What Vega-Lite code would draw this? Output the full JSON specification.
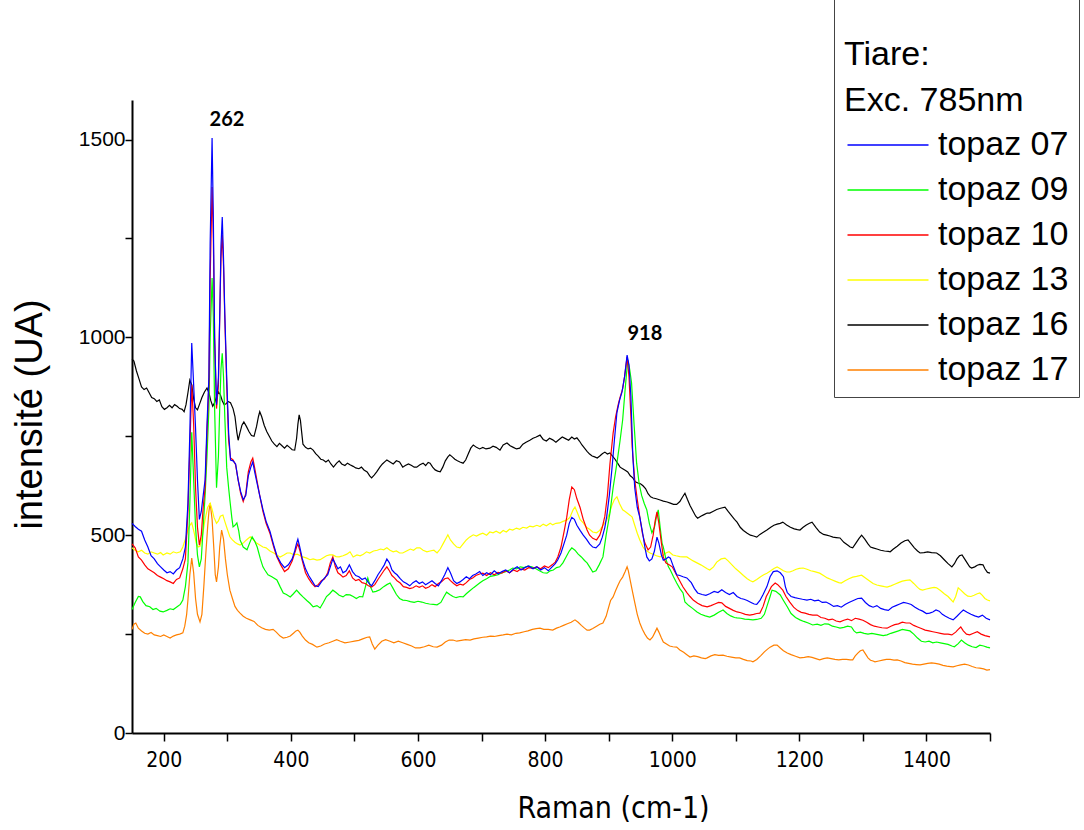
{
"$schema": "https://vega.github.io/schema/vega-lite/v6.json",
"width": 858, "height": 633,
"autosize": {"type": "none"},
"padding": {"left": 132, "top": 100, "right": 94, "bottom": 97},
"background": "white",
"config": {"view": {"stroke": null}},
"datasets": {
"t07": [{"x":150,"y":530},{"x":155,"y":522},{"x":160,"y":515},{"x":165,"y":510},{"x":170,"y":488},{"x":175,"y":470},{"x":180,"y":448},{"x":185,"y":440},{"x":190,"y":428},{"x":195,"y":420},{"x":200,"y":412},{"x":205,"y":405},{"x":210,"y":408},{"x":215,"y":402},{"x":220,"y":412},{"x":225,"y":418},{"x":230,"y":440},{"x":234,"y":470},{"x":238,"y":580},{"x":241,"y":760},{"x":244,"y":986},{"x":247,"y":880},{"x":250,"y":770},{"x":253,"y":640},{"x":256,"y":540},{"x":259,"y":560},{"x":262,"y":600},{"x":265,"y":640},{"x":268,"y":780},{"x":271,"y":900},{"x":273,"y":1240},{"x":276,"y":1504},{"x":278,"y":1300},{"x":280,"y":1000},{"x":283,"y":830},{"x":286,"y":900},{"x":288,"y":1050},{"x":290,"y":1230},{"x":292,"y":1304},{"x":294,"y":1200},{"x":296,"y":1060},{"x":299,"y":900},{"x":302,"y":760},{"x":305,"y":690},{"x":309,"y":688},{"x":313,"y":680},{"x":317,"y":640},{"x":321,"y":610},{"x":325,"y":590},{"x":329,"y":600},{"x":333,"y":650},{"x":337,"y":672},{"x":340,"y":685},{"x":343,"y":660},{"x":347,"y":630},{"x":351,"y":600},{"x":356,"y":565},{"x":361,"y":535},{"x":367,"y":510},{"x":373,"y":475},{"x":378,"y":448},{"x":384,"y":430},{"x":390,"y":418},{"x":396,"y":425},{"x":402,"y":440},{"x":406,"y":460},{"x":409,"y":480},{"x":411,"y":490},{"x":414,"y":470},{"x":418,"y":440},{"x":423,"y":415},{"x":428,"y":398},{"x":433,"y":385},{"x":438,"y":372},{"x":443,"y":370},{"x":448,"y":382},{"x":453,"y":392},{"x":458,"y":400},{"x":462,"y":420},{"x":466,"y":440},{"x":470,"y":428},{"x":474,"y":415},{"x":478,"y":420},{"x":482,"y":405},{"x":487,"y":410},{"x":492,"y":425},{"x":497,"y":408},{"x":502,"y":398},{"x":507,"y":395},{"x":512,"y":388},{"x":517,"y":392},{"x":522,"y":380},{"x":527,"y":372},{"x":532,"y":385},{"x":537,"y":400},{"x":542,"y":412},{"x":547,"y":425},{"x":551,"y":440},{"x":555,"y":430},{"x":559,"y":412},{"x":563,"y":405},{"x":567,"y":400},{"x":572,"y":390},{"x":577,"y":382},{"x":582,"y":378},{"x":587,"y":372},{"x":592,"y":380},{"x":597,"y":385},{"x":602,"y":378},{"x":607,"y":382},{"x":612,"y":375},{"x":617,"y":380},{"x":622,"y":385},{"x":627,"y":378},{"x":632,"y":372},{"x":637,"y":385},{"x":642,"y":400},{"x":647,"y":418},{"x":651,"y":405},{"x":656,"y":385},{"x":661,"y":378},{"x":666,"y":382},{"x":671,"y":388},{"x":676,"y":395},{"x":681,"y":390},{"x":686,"y":398},{"x":691,"y":402},{"x":697,"y":408},{"x":702,"y":398},{"x":708,"y":405},{"x":714,"y":400},{"x":720,"y":410},{"x":726,"y":402},{"x":732,"y":408},{"x":738,"y":412},{"x":744,"y":405},{"x":750,"y":414},{"x":756,"y":420},{"x":762,"y":412},{"x":768,"y":418},{"x":774,"y":422},{"x":781,"y":415},{"x":787,"y":420},{"x":793,"y":412},{"x":799,"y":418},{"x":805,"y":410},{"x":811,"y":420},{"x":816,"y":428},{"x":820,"y":438},{"x":825,"y":455},{"x":830,"y":480},{"x":834,"y":500},{"x":838,"y":530},{"x":842,"y":545},{"x":846,"y":540},{"x":850,"y":525},{"x":855,"y":512},{"x":860,"y":500},{"x":865,"y":490},{"x":870,"y":478},{"x":875,"y":470},{"x":880,"y":468},{"x":886,"y":478},{"x":890,"y":495},{"x":894,"y":520},{"x":897,"y":548},{"x":901,"y":600},{"x":905,"y":665},{"x":909,"y":740},{"x":913,"y":810},{"x":917,"y":840},{"x":921,"y":862},{"x":925,"y":900},{"x":929,"y":955},{"x":932,"y":930},{"x":935,"y":850},{"x":938,"y":700},{"x":941,"y":620},{"x":945,"y":570},{"x":949,"y":545},{"x":953,"y":510},{"x":957,"y":470},{"x":960,"y":445},{"x":964,"y":435},{"x":968,"y":440},{"x":972,"y":460},{"x":976,"y":495},{"x":979,"y":480},{"x":983,"y":450},{"x":986,"y":437},{"x":990,"y":440},{"x":994,"y":445},{"x":997,"y":442},{"x":1002,"y":420},{"x":1007,"y":400},{"x":1012,"y":398},{"x":1017,"y":395},{"x":1023,"y":392},{"x":1030,"y":380},{"x":1035,"y":365},{"x":1040,"y":354},{"x":1047,"y":350},{"x":1053,"y":348},{"x":1059,"y":352},{"x":1066,"y":358},{"x":1072,"y":355},{"x":1078,"y":362},{"x":1084,"y":355},{"x":1090,"y":350},{"x":1096,"y":355},{"x":1102,"y":345},{"x":1108,"y":340},{"x":1113,"y":338},{"x":1118,"y":335},{"x":1124,"y":330},{"x":1129,"y":326},{"x":1133,"y":325},{"x":1138,"y":335},{"x":1143,"y":350},{"x":1149,"y":370},{"x":1154,"y":395},{"x":1159,"y":408},{"x":1165,"y":410},{"x":1170,"y":405},{"x":1175,"y":395},{"x":1178,"y":370},{"x":1181,"y":355},{"x":1187,"y":345},{"x":1193,"y":342},{"x":1199,"y":340},{"x":1205,"y":338},{"x":1212,"y":336},{"x":1218,"y":338},{"x":1224,"y":334},{"x":1230,"y":336},{"x":1236,"y":330},{"x":1242,"y":331},{"x":1248,"y":326},{"x":1254,"y":320},{"x":1260,"y":322},{"x":1266,"y":318},{"x":1272,"y":325},{"x":1278,"y":330},{"x":1285,"y":335},{"x":1292,"y":340},{"x":1298,"y":341},{"x":1304,"y":330},{"x":1310,"y":322},{"x":1316,"y":318},{"x":1322,"y":322},{"x":1328,"y":315},{"x":1334,"y":312},{"x":1340,"y":310},{"x":1346,"y":318},{"x":1352,"y":322},{"x":1358,"y":326},{"x":1364,"y":330},{"x":1370,"y":328},{"x":1376,"y":325},{"x":1382,"y":318},{"x":1388,"y":312},{"x":1394,"y":308},{"x":1400,"y":302},{"x":1405,"y":303},{"x":1410,"y":306},{"x":1415,"y":311},{"x":1420,"y":308},{"x":1425,"y":300},{"x":1430,"y":295},{"x":1436,"y":290},{"x":1442,"y":286},{"x":1448,"y":295},{"x":1454,"y":305},{"x":1458,"y":311},{"x":1464,"y":305},{"x":1470,"y":300},{"x":1476,"y":296},{"x":1482,"y":293},{"x":1488,"y":298},{"x":1494,"y":290},{"x":1500,"y":286}],
"t10": [{"x":150,"y":478},{"x":155,"y":468},{"x":160,"y":445},{"x":165,"y":437},{"x":170,"y":425},{"x":175,"y":415},{"x":180,"y":410},{"x":185,"y":405},{"x":190,"y":398},{"x":195,"y":394},{"x":200,"y":390},{"x":205,"y":385},{"x":210,"y":382},{"x":215,"y":378},{"x":220,"y":388},{"x":225,"y":392},{"x":230,"y":415},{"x":234,"y":440},{"x":238,"y":560},{"x":241,"y":720},{"x":244,"y":880},{"x":247,"y":780},{"x":250,"y":620},{"x":253,"y":520},{"x":256,"y":475},{"x":259,"y":500},{"x":262,"y":570},{"x":265,"y":620},{"x":268,"y":760},{"x":271,"y":880},{"x":273,"y":1150},{"x":276,"y":1380},{"x":278,"y":1250},{"x":280,"y":1000},{"x":283,"y":820},{"x":286,"y":880},{"x":288,"y":1050},{"x":290,"y":1200},{"x":292,"y":1260},{"x":294,"y":1180},{"x":296,"y":1050},{"x":299,"y":880},{"x":302,"y":740},{"x":305,"y":695},{"x":309,"y":690},{"x":313,"y":678},{"x":317,"y":640},{"x":321,"y":605},{"x":325,"y":585},{"x":329,"y":605},{"x":333,"y":660},{"x":337,"y":685},{"x":340,"y":695},{"x":343,"y":670},{"x":347,"y":635},{"x":351,"y":600},{"x":356,"y":560},{"x":361,"y":530},{"x":367,"y":505},{"x":373,"y":470},{"x":378,"y":445},{"x":384,"y":425},{"x":390,"y":408},{"x":396,"y":415},{"x":402,"y":435},{"x":406,"y":455},{"x":409,"y":470},{"x":411,"y":478},{"x":414,"y":462},{"x":418,"y":435},{"x":423,"y":405},{"x":428,"y":390},{"x":433,"y":378},{"x":438,"y":370},{"x":443,"y":375},{"x":448,"y":385},{"x":453,"y":390},{"x":458,"y":405},{"x":462,"y":430},{"x":466,"y":445},{"x":470,"y":420},{"x":474,"y":405},{"x":478,"y":400},{"x":482,"y":394},{"x":487,"y":398},{"x":492,"y":410},{"x":497,"y":392},{"x":502,"y":385},{"x":507,"y":388},{"x":512,"y":380},{"x":517,"y":378},{"x":522,"y":372},{"x":527,"y":369},{"x":532,"y":375},{"x":537,"y":388},{"x":542,"y":400},{"x":547,"y":412},{"x":551,"y":420},{"x":555,"y":410},{"x":559,"y":398},{"x":563,"y":392},{"x":567,"y":385},{"x":572,"y":379},{"x":577,"y":370},{"x":582,"y":368},{"x":587,"y":365},{"x":592,"y":367},{"x":597,"y":372},{"x":602,"y":368},{"x":607,"y":372},{"x":612,"y":366},{"x":617,"y":369},{"x":622,"y":375},{"x":627,"y":370},{"x":632,"y":378},{"x":637,"y":382},{"x":642,"y":390},{"x":647,"y":392},{"x":651,"y":385},{"x":656,"y":378},{"x":661,"y":372},{"x":666,"y":376},{"x":671,"y":374},{"x":676,"y":380},{"x":681,"y":388},{"x":686,"y":392},{"x":691,"y":398},{"x":697,"y":402},{"x":702,"y":404},{"x":708,"y":398},{"x":714,"y":405},{"x":720,"y":400},{"x":726,"y":406},{"x":732,"y":404},{"x":738,"y":410},{"x":744,"y":405},{"x":750,"y":412},{"x":756,"y":408},{"x":762,"y":415},{"x":768,"y":412},{"x":774,"y":418},{"x":781,"y":416},{"x":787,"y":420},{"x":793,"y":415},{"x":799,"y":422},{"x":805,"y":418},{"x":811,"y":425},{"x":816,"y":432},{"x":820,"y":445},{"x":825,"y":470},{"x":830,"y":510},{"x":834,"y":545},{"x":838,"y":590},{"x":842,"y":622},{"x":846,"y":615},{"x":850,"y":592},{"x":855,"y":570},{"x":860,"y":540},{"x":866,"y":513},{"x":870,"y":500},{"x":875,"y":492},{"x":881,"y":488},{"x":886,"y":500},{"x":890,"y":520},{"x":894,"y":548},{"x":898,"y":600},{"x":902,"y":680},{"x":907,"y":758},{"x":911,"y":800},{"x":915,"y":830},{"x":918,"y":849},{"x":922,"y":870},{"x":925,"y":900},{"x":929,"y":951},{"x":932,"y":900},{"x":935,"y":800},{"x":937,"y":723},{"x":941,"y":640},{"x":945,"y":590},{"x":949,"y":546},{"x":953,"y":505},{"x":957,"y":480},{"x":962,"y":463},{"x":966,"y":470},{"x":970,"y":500},{"x":973,"y":535},{"x":976,"y":559},{"x":979,"y":530},{"x":983,"y":480},{"x":986,"y":445},{"x":990,"y":430},{"x":995,"y":425},{"x":1000,"y":420},{"x":1005,"y":405},{"x":1010,"y":390},{"x":1017,"y":369},{"x":1023,"y":355},{"x":1028,"y":345},{"x":1033,"y":336},{"x":1040,"y":328},{"x":1047,"y":322},{"x":1055,"y":319},{"x":1061,"y":322},{"x":1067,"y":326},{"x":1073,"y":330},{"x":1078,"y":329},{"x":1084,"y":320},{"x":1090,"y":315},{"x":1096,"y":310},{"x":1102,"y":306},{"x":1108,"y":304},{"x":1115,"y":300},{"x":1122,"y":298},{"x":1128,"y":300},{"x":1133,"y":302},{"x":1138,"y":303},{"x":1143,"y":320},{"x":1148,"y":345},{"x":1151,"y":354},{"x":1156,"y":370},{"x":1162,"y":379},{"x":1166,"y":375},{"x":1170,"y":368},{"x":1174,"y":361},{"x":1179,"y":345},{"x":1185,"y":331},{"x":1191,"y":318},{"x":1197,"y":310},{"x":1203,"y":305},{"x":1209,"y":303},{"x":1215,"y":300},{"x":1221,"y":298},{"x":1228,"y":298},{"x":1234,"y":292},{"x":1240,"y":290},{"x":1246,"y":286},{"x":1252,"y":288},{"x":1258,"y":283},{"x":1264,"y":281},{"x":1270,"y":285},{"x":1276,"y":288},{"x":1282,"y":284},{"x":1288,"y":290},{"x":1294,"y":288},{"x":1300,"y":285},{"x":1306,"y":280},{"x":1312,"y":274},{"x":1318,"y":270},{"x":1324,"y":268},{"x":1330,"y":266},{"x":1338,"y":265},{"x":1344,"y":270},{"x":1350,"y":274},{"x":1356,"y":276},{"x":1362,"y":280},{"x":1368,"y":278},{"x":1374,"y":278},{"x":1380,"y":272},{"x":1386,"y":268},{"x":1392,"y":264},{"x":1398,"y":260},{"x":1404,"y":258},{"x":1410,"y":256},{"x":1416,"y":254},{"x":1422,"y":252},{"x":1428,"y":250},{"x":1434,"y":250},{"x":1440,"y":248},{"x":1446,"y":255},{"x":1450,"y":262},{"x":1454,"y":268},{"x":1458,"y":258},{"x":1463,"y":250},{"x":1468,"y":248},{"x":1474,"y":252},{"x":1480,"y":256},{"x":1486,"y":250},{"x":1492,"y":246},{"x":1500,"y":243}],
"t09": [{"x":150,"y":312},{"x":155,"y":330},{"x":160,"y":345},{"x":163,"y":344},{"x":167,"y":332},{"x":172,"y":322},{"x":178,"y":319},{"x":183,"y":312},{"x":188,"y":315},{"x":194,"y":308},{"x":199,"y":306},{"x":205,"y":310},{"x":210,"y":314},{"x":215,"y":312},{"x":221,"y":319},{"x":226,"y":325},{"x":230,"y":336},{"x":234,"y":370},{"x":238,"y":430},{"x":241,"y":580},{"x":244,"y":760},{"x":247,"y":640},{"x":250,"y":520},{"x":253,"y":450},{"x":256,"y":420},{"x":259,"y":440},{"x":262,"y":520},{"x":265,"y":600},{"x":268,"y":700},{"x":271,"y":820},{"x":273,"y":1000},{"x":276,"y":1150},{"x":278,"y":1050},{"x":280,"y":820},{"x":283,"y":620},{"x":286,"y":700},{"x":288,"y":820},{"x":290,"y":920},{"x":292,"y":960},{"x":294,"y":900},{"x":296,"y":800},{"x":299,"y":672},{"x":302,"y":620},{"x":304,"y":589},{"x":307,"y":545},{"x":309,"y":521},{"x":312,"y":525},{"x":315,"y":531},{"x":318,"y":510},{"x":320,"y":488},{"x":325,"y":470},{"x":331,"y":463},{"x":335,"y":480},{"x":339,"y":496},{"x":343,"y":485},{"x":347,"y":470},{"x":352,"y":440},{"x":356,"y":420},{"x":359,"y":412},{"x":364,"y":400},{"x":370,"y":395},{"x":378,"y":387},{"x":383,"y":370},{"x":388,"y":354},{"x":393,"y":350},{"x":399,"y":344},{"x":404,"y":352},{"x":409,"y":361},{"x":414,"y":352},{"x":419,"y":344},{"x":425,"y":335},{"x":430,"y":328},{"x":435,"y":319},{"x":441,"y":322},{"x":446,"y":316},{"x":451,"y":330},{"x":456,"y":345},{"x":461,"y":352},{"x":466,"y":361},{"x":471,"y":355},{"x":476,"y":348},{"x":482,"y":344},{"x":487,"y":350},{"x":493,"y":349},{"x":498,"y":345},{"x":503,"y":340},{"x":508,"y":345},{"x":513,"y":344},{"x":517,"y":368},{"x":521,"y":392},{"x":525,"y":370},{"x":529,"y":356},{"x":534,"y":358},{"x":540,"y":362},{"x":546,"y":370},{"x":551,"y":375},{"x":556,"y":379},{"x":561,"y":365},{"x":566,"y":350},{"x":571,"y":340},{"x":576,"y":336},{"x":582,"y":335},{"x":588,"y":332},{"x":594,"y":330},{"x":600,"y":333},{"x":606,"y":331},{"x":612,"y":328},{"x":618,"y":326},{"x":624,"y":325},{"x":630,"y":324},{"x":636,"y":330},{"x":641,"y":345},{"x":645,"y":356},{"x":650,"y":350},{"x":655,"y":345},{"x":660,"y":342},{"x":666,"y":345},{"x":671,"y":344},{"x":676,"y":352},{"x":682,"y":360},{"x":688,"y":368},{"x":693,"y":374},{"x":697,"y":379},{"x":702,"y":385},{"x":708,"y":390},{"x":714,"y":396},{"x":720,"y":398},{"x":726,"y":400},{"x":732,"y":405},{"x":738,"y":408},{"x":744,"y":412},{"x":749,"y":417},{"x":755,"y":415},{"x":761,"y":420},{"x":767,"y":418},{"x":773,"y":422},{"x":779,"y":420},{"x":785,"y":416},{"x":791,"y":410},{"x":797,"y":405},{"x":803,"y":404},{"x":808,"y":410},{"x":813,"y":412},{"x":818,"y":418},{"x":823,"y":420},{"x":828,"y":430},{"x":833,"y":445},{"x":838,"y":460},{"x":842,"y":468},{"x":847,"y":462},{"x":852,"y":452},{"x":857,"y":445},{"x":862,"y":436},{"x":866,"y":430},{"x":870,"y":420},{"x":875,"y":407},{"x":880,"y":410},{"x":885,"y":425},{"x":891,"y":445},{"x":896,"y":500},{"x":902,"y":556},{"x":907,"y":620},{"x":913,"y":682},{"x":918,"y":740},{"x":922,"y":791},{"x":926,"y":870},{"x":930,"y":943},{"x":933,"y":920},{"x":936,"y":885},{"x":940,"y":780},{"x":944,"y":682},{"x":948,"y":630},{"x":952,"y":600},{"x":956,"y":580},{"x":960,"y":564},{"x":964,"y":530},{"x":968,"y":506},{"x":972,"y":520},{"x":975,"y":545},{"x":978,"y":564},{"x":981,"y":520},{"x":984,"y":480},{"x":986,"y":470},{"x":990,"y":440},{"x":994,"y":420},{"x":997,"y":412},{"x":1002,"y":395},{"x":1007,"y":379},{"x":1012,"y":365},{"x":1017,"y":354},{"x":1020,"y":331},{"x":1026,"y":322},{"x":1032,"y":315},{"x":1039,"y":306},{"x":1045,"y":300},{"x":1052,"y":296},{"x":1059,"y":293},{"x":1066,"y":298},{"x":1073,"y":305},{"x":1080,"y":311},{"x":1086,"y":302},{"x":1092,"y":296},{"x":1098,"y":292},{"x":1102,"y":291},{"x":1108,"y":290},{"x":1114,"y":288},{"x":1120,"y":287},{"x":1127,"y":286},{"x":1133,"y":287},{"x":1140,"y":290},{"x":1145,"y":300},{"x":1150,"y":325},{"x":1154,"y":345},{"x":1157,"y":361},{"x":1163,"y":358},{"x":1170,"y":349},{"x":1175,"y":335},{"x":1181,"y":319},{"x":1187,"y":302},{"x":1194,"y":292},{"x":1201,"y":286},{"x":1207,"y":282},{"x":1214,"y":278},{"x":1221,"y":273},{"x":1228,"y":275},{"x":1234,"y":272},{"x":1240,"y":276},{"x":1246,"y":275},{"x":1252,"y":270},{"x":1258,"y":268},{"x":1264,"y":265},{"x":1270,"y":267},{"x":1276,"y":270},{"x":1282,"y":268},{"x":1286,"y":258},{"x":1290,"y":253},{"x":1296,"y":255},{"x":1302,"y":252},{"x":1308,"y":250},{"x":1314,"y":252},{"x":1320,"y":250},{"x":1326,"y":248},{"x":1332,"y":246},{"x":1338,"y":248},{"x":1344,"y":252},{"x":1350,"y":255},{"x":1356,"y":258},{"x":1362,"y":262},{"x":1368,"y":260},{"x":1374,"y":258},{"x":1380,"y":250},{"x":1386,"y":240},{"x":1392,"y":232},{"x":1398,"y":230},{"x":1404,"y":232},{"x":1410,"y":228},{"x":1416,"y":230},{"x":1422,"y":228},{"x":1428,"y":226},{"x":1434,"y":224},{"x":1440,"y":220},{"x":1444,"y":218},{"x":1450,"y":226},{"x":1455,"y":235},{"x":1460,"y":228},{"x":1466,"y":222},{"x":1472,"y":218},{"x":1478,"y":216},{"x":1484,"y":222},{"x":1490,"y":220},{"x":1495,"y":217},{"x":1500,"y":215}],
"t13": [{"x":150,"y":468},{"x":155,"y":462},{"x":160,"y":458},{"x":165,"y":462},{"x":170,"y":455},{"x":175,"y":452},{"x":180,"y":458},{"x":185,"y":455},{"x":190,"y":452},{"x":195,"y":456},{"x":199,"y":450},{"x":205,"y":455},{"x":210,"y":452},{"x":215,"y":458},{"x":220,"y":455},{"x":226,"y":458},{"x":230,"y":470},{"x":234,"y":490},{"x":238,"y":513},{"x":241,"y":525},{"x":244,"y":531},{"x":248,"y":505},{"x":251,"y":480},{"x":254,"y":470},{"x":257,"y":472},{"x":261,"y":500},{"x":265,"y":540},{"x":269,"y":570},{"x":273,"y":581},{"x":276,"y":565},{"x":279,"y":545},{"x":283,"y":530},{"x":286,"y":536},{"x":289,"y":548},{"x":293,"y":551},{"x":296,"y":535},{"x":300,"y":515},{"x":304,"y":496},{"x":308,"y":488},{"x":312,"y":482},{"x":316,"y":478},{"x":320,"y":475},{"x":325,"y":480},{"x":330,"y":488},{"x":336,"y":496},{"x":341,"y":488},{"x":346,"y":480},{"x":351,"y":475},{"x":356,"y":470},{"x":361,"y":468},{"x":367,"y":460},{"x":373,"y":455},{"x":378,"y":450},{"x":383,"y":445},{"x":389,"y":450},{"x":394,"y":455},{"x":399,"y":455},{"x":405,"y":450},{"x":410,"y":452},{"x":415,"y":448},{"x":419,"y":445},{"x":425,"y":442},{"x":430,"y":438},{"x":435,"y":440},{"x":441,"y":437},{"x":446,"y":438},{"x":451,"y":443},{"x":456,"y":448},{"x":461,"y":450},{"x":466,"y":450},{"x":471,"y":446},{"x":476,"y":445},{"x":482,"y":448},{"x":488,"y":452},{"x":493,"y":458},{"x":498,"y":445},{"x":504,"y":450},{"x":509,"y":448},{"x":514,"y":452},{"x":519,"y":458},{"x":524,"y":455},{"x":530,"y":460},{"x":536,"y":462},{"x":541,"y":465},{"x":546,"y":463},{"x":551,"y":468},{"x":556,"y":462},{"x":561,"y":458},{"x":566,"y":460},{"x":571,"y":455},{"x":576,"y":455},{"x":582,"y":460},{"x":588,"y":465},{"x":593,"y":462},{"x":598,"y":468},{"x":603,"y":468},{"x":608,"y":462},{"x":614,"y":458},{"x":619,"y":460},{"x":625,"y":462},{"x":630,"y":455},{"x":635,"y":465},{"x":640,"y":480},{"x":645,"y":495},{"x":647,"y":501},{"x":651,"y":488},{"x":656,"y":478},{"x":661,"y":470},{"x":666,"y":468},{"x":671,"y":478},{"x":676,"y":488},{"x":681,"y":495},{"x":687,"y":501},{"x":692,"y":498},{"x":697,"y":502},{"x":702,"y":505},{"x":708,"y":500},{"x":713,"y":508},{"x":718,"y":506},{"x":723,"y":510},{"x":729,"y":505},{"x":734,"y":512},{"x":739,"y":508},{"x":744,"y":515},{"x":749,"y":513},{"x":755,"y":518},{"x":760,"y":515},{"x":765,"y":520},{"x":771,"y":518},{"x":776,"y":523},{"x":781,"y":521},{"x":787,"y":525},{"x":792,"y":522},{"x":797,"y":528},{"x":802,"y":524},{"x":808,"y":530},{"x":812,"y":526},{"x":817,"y":530},{"x":823,"y":531},{"x":828,"y":535},{"x":834,"y":538},{"x":839,"y":545},{"x":844,"y":564},{"x":847,"y":571},{"x":850,"y":560},{"x":855,"y":540},{"x":860,"y":531},{"x":865,"y":520},{"x":870,"y":515},{"x":875,"y":508},{"x":881,"y":506},{"x":886,"y":512},{"x":891,"y":525},{"x":897,"y":538},{"x":901,"y":555},{"x":905,"y":575},{"x":909,"y":590},{"x":913,"y":597},{"x":917,"y":580},{"x":922,"y":564},{"x":926,"y":560},{"x":930,"y":555},{"x":934,"y":550},{"x":937,"y":546},{"x":941,"y":525},{"x":945,"y":505},{"x":949,"y":488},{"x":954,"y":470},{"x":958,"y":462},{"x":962,"y":458},{"x":965,"y":455},{"x":970,"y":452},{"x":975,"y":448},{"x":981,"y":445},{"x":986,"y":450},{"x":990,"y":455},{"x":995,"y":458},{"x":1001,"y":450},{"x":1006,"y":448},{"x":1012,"y":446},{"x":1017,"y":445},{"x":1023,"y":445},{"x":1028,"y":440},{"x":1033,"y":435},{"x":1039,"y":430},{"x":1045,"y":425},{"x":1050,"y":420},{"x":1055,"y":415},{"x":1059,"y":412},{"x":1065,"y":420},{"x":1070,"y":432},{"x":1077,"y":440},{"x":1083,"y":442},{"x":1088,"y":435},{"x":1094,"y":425},{"x":1100,"y":415},{"x":1106,"y":407},{"x":1112,"y":398},{"x":1118,"y":390},{"x":1123,"y":385},{"x":1127,"y":382},{"x":1133,"y":388},{"x":1139,"y":395},{"x":1144,"y":400},{"x":1149,"y":404},{"x":1155,"y":410},{"x":1160,"y":416},{"x":1165,"y":420},{"x":1170,"y":415},{"x":1175,"y":410},{"x":1180,"y":407},{"x":1185,"y":407},{"x":1190,"y":410},{"x":1195,"y":414},{"x":1200,"y":416},{"x":1206,"y":417},{"x":1212,"y":414},{"x":1218,"y":410},{"x":1224,"y":408},{"x":1228,"y":406},{"x":1232,"y":404},{"x":1238,"y":398},{"x":1244,"y":392},{"x":1250,"y":388},{"x":1256,"y":384},{"x":1262,"y":380},{"x":1266,"y":379},{"x":1272,"y":385},{"x":1278,"y":390},{"x":1284,"y":394},{"x":1290,"y":396},{"x":1298,"y":399},{"x":1304,"y":392},{"x":1310,"y":385},{"x":1316,"y":378},{"x":1322,"y":374},{"x":1328,"y":372},{"x":1334,"y":370},{"x":1338,"y":369},{"x":1344,"y":372},{"x":1350,"y":376},{"x":1356,"y":380},{"x":1362,"y":384},{"x":1368,"y":386},{"x":1374,"y":387},{"x":1380,"y":378},{"x":1386,"y":368},{"x":1390,"y":363},{"x":1394,"y":361},{"x":1400,"y":364},{"x":1406,"y":366},{"x":1412,"y":368},{"x":1416,"y":367},{"x":1422,"y":360},{"x":1428,"y":352},{"x":1434,"y":345},{"x":1438,"y":338},{"x":1442,"y":331},{"x":1446,"y":345},{"x":1450,"y":367},{"x":1455,"y":360},{"x":1460,"y":352},{"x":1465,"y":346},{"x":1470,"y":345},{"x":1475,"y":348},{"x":1480,"y":352},{"x":1484,"y":354},{"x":1488,"y":348},{"x":1492,"y":340},{"x":1496,"y":336},{"x":1500,"y":334}],
"t16": [{"x":150,"y":945},{"x":153,"y":940},{"x":157,"y":915},{"x":161,"y":895},{"x":165,"y":875},{"x":169,"y":868},{"x":173,"y":872},{"x":177,"y":860},{"x":181,"y":848},{"x":185,"y":845},{"x":189,"y":838},{"x":193,"y":842},{"x":197,"y":825},{"x":201,"y":818},{"x":205,"y":822},{"x":209,"y":828},{"x":213,"y":822},{"x":217,"y":830},{"x":221,"y":826},{"x":225,"y":820},{"x":229,"y":818},{"x":232,"y":812},{"x":235,"y":830},{"x":238,"y":860},{"x":241,"y":892},{"x":244,"y":880},{"x":247,"y":845},{"x":250,"y":822},{"x":253,"y":817},{"x":256,"y":830},{"x":260,"y":848},{"x":264,"y":862},{"x":268,"y":872},{"x":271,"y":860},{"x":274,"y":840},{"x":277,"y":826},{"x":280,"y":835},{"x":283,"y":850},{"x":286,"y":862},{"x":289,"y":855},{"x":292,"y":840},{"x":295,"y":830},{"x":298,"y":832},{"x":301,"y":838},{"x":305,"y":835},{"x":309,"y":820},{"x":312,"y":800},{"x":315,"y":760},{"x":317,"y":740},{"x":320,"y":760},{"x":323,"y":778},{"x":326,"y":786},{"x":330,"y":775},{"x":334,"y":762},{"x":338,"y":752},{"x":342,"y":750},{"x":346,"y":775},{"x":349,"y":800},{"x":351,"y":812},{"x":354,"y":800},{"x":358,"y":778},{"x":362,"y":762},{"x":366,"y":750},{"x":370,"y":738},{"x":374,"y":730},{"x":378,"y":724},{"x":382,"y":732},{"x":386,"y":726},{"x":390,"y":720},{"x":394,"y":727},{"x":398,"y":722},{"x":402,"y":716},{"x":406,"y":715},{"x":409,"y":745},{"x":411,"y":780},{"x":413,"y":804},{"x":415,"y":790},{"x":417,"y":760},{"x":419,"y":730},{"x":423,"y":722},{"x":427,"y":718},{"x":431,"y":720},{"x":435,"y":715},{"x":439,"y":706},{"x":443,"y":700},{"x":447,"y":692},{"x":451,"y":690},{"x":455,"y":685},{"x":459,"y":690},{"x":463,"y":680},{"x":467,"y":672},{"x":472,"y":682},{"x":476,"y":688},{"x":480,"y":680},{"x":485,"y":676},{"x":489,"y":682},{"x":493,"y":678},{"x":498,"y":674},{"x":502,"y":670},{"x":507,"y":668},{"x":511,"y":672},{"x":515,"y":665},{"x":520,"y":660},{"x":524,"y":650},{"x":527,"y":645},{"x":531,"y":652},{"x":535,"y":660},{"x":540,"y":672},{"x":544,"y":680},{"x":548,"y":686},{"x":551,"y":690},{"x":556,"y":685},{"x":561,"y":680},{"x":566,"y":688},{"x":571,"y":685},{"x":576,"y":672},{"x":580,"y":676},{"x":585,"y":680},{"x":590,"y":676},{"x":594,"y":672},{"x":598,"y":672},{"x":603,"y":678},{"x":608,"y":682},{"x":612,"y":676},{"x":616,"y":684},{"x":619,"y":682},{"x":623,"y":672},{"x":627,"y":665},{"x":631,"y":662},{"x":635,"y":660},{"x":639,"y":672},{"x":643,"y":688},{"x":647,"y":698},{"x":650,"y":703},{"x":654,"y":698},{"x":658,"y":692},{"x":662,"y":688},{"x":666,"y":685},{"x":671,"y":682},{"x":675,"y":690},{"x":679,"y":705},{"x":683,"y":720},{"x":687,"y":728},{"x":692,"y":722},{"x":697,"y":718},{"x":702,"y":722},{"x":707,"y":718},{"x":713,"y":720},{"x":718,"y":725},{"x":723,"y":722},{"x":729,"y":715},{"x":734,"y":728},{"x":740,"y":733},{"x":745,"y":726},{"x":750,"y":722},{"x":755,"y":718},{"x":760,"y":720},{"x":765,"y":730},{"x":770,"y":735},{"x":776,"y":740},{"x":781,"y":745},{"x":786,"y":748},{"x":792,"y":753},{"x":797,"y":742},{"x":802,"y":738},{"x":807,"y":745},{"x":812,"y":741},{"x":817,"y":735},{"x":822,"y":742},{"x":827,"y":748},{"x":832,"y":744},{"x":837,"y":740},{"x":842,"y":748},{"x":846,"y":743},{"x":850,"y":746},{"x":854,"y":738},{"x":858,"y":728},{"x":862,"y":720},{"x":866,"y":712},{"x":870,"y":705},{"x":874,"y":700},{"x":878,"y":698},{"x":882,"y":695},{"x":886,"y":700},{"x":890,"y":706},{"x":894,"y":710},{"x":898,"y":705},{"x":902,"y":708},{"x":906,"y":700},{"x":910,"y":692},{"x":914,"y":682},{"x":918,"y":672},{"x":922,"y":668},{"x":926,"y":664},{"x":930,"y":660},{"x":934,"y":650},{"x":938,"y":645},{"x":942,"y":635},{"x":946,"y":632},{"x":950,"y":630},{"x":954,"y":625},{"x":958,"y":618},{"x":962,"y":605},{"x":966,"y":597},{"x":970,"y":594},{"x":975,"y":592},{"x":981,"y":589},{"x":986,"y":586},{"x":992,"y":584},{"x":997,"y":581},{"x":1002,"y":578},{"x":1007,"y":578},{"x":1012,"y":585},{"x":1016,"y":596},{"x":1020,"y":606},{"x":1024,"y":590},{"x":1028,"y":575},{"x":1033,"y":560},{"x":1037,"y":548},{"x":1040,"y":543},{"x":1045,"y":548},{"x":1050,"y":552},{"x":1055,"y":556},{"x":1059,"y":556},{"x":1064,"y":560},{"x":1070,"y":565},{"x":1076,"y":568},{"x":1083,"y":571},{"x":1088,"y":560},{"x":1093,"y":550},{"x":1098,"y":540},{"x":1102,"y":533},{"x":1107,"y":520},{"x":1112,"y":512},{"x":1118,"y":505},{"x":1123,"y":500},{"x":1128,"y":498},{"x":1133,"y":495},{"x":1138,"y":502},{"x":1144,"y":508},{"x":1149,"y":513},{"x":1155,"y":520},{"x":1160,"y":525},{"x":1165,"y":528},{"x":1170,"y":530},{"x":1174,"y":533},{"x":1180,"y":526},{"x":1186,"y":520},{"x":1192,"y":516},{"x":1197,"y":514},{"x":1201,"y":513},{"x":1206,"y":520},{"x":1211,"y":526},{"x":1216,"y":530},{"x":1220,"y":533},{"x":1226,"y":520},{"x":1232,"y":508},{"x":1238,"y":502},{"x":1243,"y":500},{"x":1248,"y":498},{"x":1253,"y":495},{"x":1258,"y":494},{"x":1264,"y":493},{"x":1270,"y":482},{"x":1276,"y":475},{"x":1280,"y":470},{"x":1284,"y":468},{"x":1289,"y":480},{"x":1294,"y":492},{"x":1298,"y":500},{"x":1303,"y":490},{"x":1308,"y":478},{"x":1312,"y":470},{"x":1316,"y":468},{"x":1322,"y":465},{"x":1328,"y":462},{"x":1334,"y":460},{"x":1340,"y":459},{"x":1343,"y":458},{"x":1348,"y":465},{"x":1354,"y":472},{"x":1360,"y":480},{"x":1366,"y":486},{"x":1371,"y":488},{"x":1376,"y":478},{"x":1381,"y":468},{"x":1386,"y":460},{"x":1390,"y":455},{"x":1396,"y":456},{"x":1402,"y":458},{"x":1408,"y":456},{"x":1416,"y":455},{"x":1422,"y":448},{"x":1428,"y":438},{"x":1434,"y":428},{"x":1440,"y":420},{"x":1444,"y":428},{"x":1448,"y":440},{"x":1452,"y":448},{"x":1456,"y":450},{"x":1460,"y":440},{"x":1464,"y":430},{"x":1468,"y":420},{"x":1471,"y":417},{"x":1476,"y":420},{"x":1480,"y":424},{"x":1484,"y":426},{"x":1489,"y":425},{"x":1492,"y":415},{"x":1496,"y":406},{"x":1500,"y":404}],
"t17": [{"x":150,"y":262},{"x":153,"y":275},{"x":156,"y":278},{"x":160,"y":265},{"x":165,"y":258},{"x":170,"y":252},{"x":175,"y":250},{"x":180,"y":254},{"x":185,"y":248},{"x":190,"y":246},{"x":195,"y":244},{"x":200,"y":248},{"x":205,"y":244},{"x":210,"y":240},{"x":215,"y":245},{"x":220,"y":248},{"x":225,"y":250},{"x":230,"y":253},{"x":233,"y":270},{"x":236,"y":300},{"x":238,"y":336},{"x":241,"y":400},{"x":244,"y":442},{"x":247,"y":405},{"x":250,"y":340},{"x":253,"y":300},{"x":257,"y":281},{"x":260,"y":300},{"x":263,"y":370},{"x":266,"y":450},{"x":269,"y":520},{"x":271,"y":560},{"x":273,"y":581},{"x":276,"y":540},{"x":279,"y":460},{"x":281,"y":400},{"x":283,"y":382},{"x":286,"y":420},{"x":288,"y":470},{"x":291,"y":513},{"x":294,"y":490},{"x":297,"y":440},{"x":300,"y":400},{"x":304,"y":361},{"x":308,"y":340},{"x":312,"y":320},{"x":316,"y":310},{"x":320,"y":303},{"x":325,"y":295},{"x":330,"y":290},{"x":336,"y":286},{"x":342,"y":282},{"x":348,"y":272},{"x":354,"y":266},{"x":360,"y":262},{"x":366,"y":260},{"x":372,"y":262},{"x":377,"y":255},{"x":383,"y":245},{"x":388,"y":240},{"x":394,"y":242},{"x":399,"y":245},{"x":404,"y":252},{"x":408,"y":258},{"x":411,"y":260},{"x":414,"y":255},{"x":418,"y":245},{"x":423,"y":235},{"x":428,"y":228},{"x":434,"y":224},{"x":441,"y":217},{"x":447,"y":220},{"x":453,"y":225},{"x":460,"y":228},{"x":466,"y":232},{"x":472,"y":236},{"x":478,"y":232},{"x":485,"y":228},{"x":493,"y":230},{"x":500,"y":232},{"x":507,"y":234},{"x":513,"y":238},{"x":520,"y":242},{"x":524,"y":243},{"x":528,"y":225},{"x":532,"y":212},{"x":537,"y":222},{"x":543,"y":232},{"x":549,"y":236},{"x":556,"y":232},{"x":562,"y":228},{"x":569,"y":232},{"x":576,"y":228},{"x":583,"y":224},{"x":590,"y":220},{"x":596,"y":215},{"x":603,"y":215},{"x":610,"y":218},{"x":617,"y":222},{"x":624,"y":218},{"x":630,"y":217},{"x":637,"y":222},{"x":643,"y":230},{"x":649,"y":235},{"x":655,"y":235},{"x":661,"y":232},{"x":668,"y":234},{"x":675,"y":236},{"x":682,"y":235},{"x":688,"y":238},{"x":695,"y":240},{"x":702,"y":242},{"x":708,"y":243},{"x":714,"y":245},{"x":720,"y":244},{"x":727,"y":246},{"x":734,"y":248},{"x":740,"y":250},{"x":747,"y":248},{"x":754,"y":252},{"x":760,"y":253},{"x":767,"y":256},{"x":773,"y":258},{"x":780,"y":262},{"x":786,"y":264},{"x":792,"y":265},{"x":798,"y":262},{"x":805,"y":262},{"x":812,"y":260},{"x":818,"y":265},{"x":823,"y":268},{"x":829,"y":272},{"x":835,"y":276},{"x":841,"y":280},{"x":847,"y":286},{"x":852,"y":280},{"x":857,"y":272},{"x":862,"y":265},{"x":866,"y":260},{"x":870,"y":260},{"x":875,"y":264},{"x":881,"y":270},{"x":886,"y":275},{"x":891,"y":278},{"x":896,"y":295},{"x":900,"y":318},{"x":903,"y":335},{"x":907,"y":344},{"x":911,"y":360},{"x":915,"y":375},{"x":918,"y":385},{"x":922,"y":394},{"x":926,"y":408},{"x":929,"y":420},{"x":931,"y":410},{"x":934,"y":385},{"x":937,"y":361},{"x":941,"y":330},{"x":945,"y":300},{"x":949,"y":278},{"x":953,"y":262},{"x":957,"y":250},{"x":961,"y":240},{"x":965,"y":235},{"x":969,"y":242},{"x":973,"y":255},{"x":976,"y":265},{"x":979,"y":255},{"x":983,"y":240},{"x":986,"y":230},{"x":991,"y":225},{"x":996,"y":220},{"x":1001,"y":218},{"x":1007,"y":217},{"x":1012,"y":210},{"x":1018,"y":204},{"x":1023,"y":198},{"x":1028,"y":192},{"x":1034,"y":195},{"x":1040,"y":193},{"x":1046,"y":190},{"x":1052,"y":188},{"x":1055,"y":190},{"x":1061,"y":195},{"x":1067,"y":198},{"x":1073,"y":196},{"x":1080,"y":197},{"x":1086,"y":194},{"x":1093,"y":192},{"x":1100,"y":190},{"x":1106,"y":190},{"x":1112,"y":186},{"x":1118,"y":183},{"x":1124,"y":182},{"x":1127,"y":180},{"x":1133,"y":186},{"x":1139,"y":195},{"x":1145,"y":205},{"x":1150,"y":212},{"x":1154,"y":217},{"x":1160,"y":222},{"x":1165,"y":222},{"x":1170,"y":215},{"x":1175,"y":208},{"x":1181,"y":202},{"x":1187,"y":198},{"x":1194,"y":194},{"x":1201,"y":190},{"x":1208,"y":191},{"x":1214,"y":193},{"x":1220,"y":191},{"x":1226,"y":188},{"x":1232,"y":185},{"x":1238,"y":188},{"x":1244,"y":190},{"x":1250,"y":188},{"x":1256,"y":186},{"x":1262,"y":185},{"x":1268,"y":186},{"x":1274,"y":186},{"x":1280,"y":185},{"x":1284,"y":185},{"x":1288,"y":195},{"x":1292,"y":202},{"x":1296,"y":208},{"x":1300,"y":210},{"x":1304,"y":200},{"x":1308,"y":190},{"x":1312,"y":184},{"x":1316,"y":182},{"x":1319,"y":180},{"x":1325,"y":182},{"x":1331,"y":184},{"x":1337,"y":186},{"x":1343,"y":186},{"x":1349,"y":184},{"x":1354,"y":185},{"x":1360,"y":182},{"x":1366,"y":178},{"x":1372,"y":176},{"x":1378,"y":174},{"x":1384,"y":173},{"x":1390,"y":172},{"x":1396,"y":174},{"x":1402,"y":176},{"x":1408,"y":177},{"x":1414,"y":176},{"x":1420,"y":174},{"x":1426,"y":171},{"x":1432,"y":169},{"x":1438,"y":168},{"x":1442,"y":167},{"x":1448,"y":170},{"x":1454,"y":172},{"x":1460,"y":174},{"x":1466,"y":172},{"x":1472,"y":168},{"x":1478,"y":165},{"x":1484,"y":164},{"x":1490,"y":162},{"x":1495,"y":159},{"x":1500,"y":160}],
"notes": [{"label":"262","x":299.5,"y":1534},{"label":"918","x":957,"y":993}]
},
"encoding": {
"x": {"field":"x","type":"quantitative","scale":{"domain":[150,1500],"nice":false,"zero":false},
 "axis":{"title":"Raman (cm-1)","values":[200,300,400,500,600,700,800,900,1000,1100,1200,1300,1400,1500],"format":"d",
 "labelExpr":"(datum.value % 200 == 0 && datum.value < 1500) ? datum.label : ''","grid":false,
 "domainColor":"black","domainWidth":2,"tickColor":"black","tickWidth":1.5,"tickSize":8,
 "labelFont":"'Liberation Sans Narrow', 'DejaVu Sans Condensed', 'Liberation Sans', sans-serif","labelFontSize":21,"labelColor":"black","labelPadding":8,
 "titleFont":"'Liberation Sans Narrow', 'DejaVu Sans Condensed', 'Liberation Sans', sans-serif","titleFontSize":30,"titleFontWeight":"normal","titleColor":"black",
 "titleX":481,"titleY":84,"titleBaseline":"alphabetic","titleAlign":"center"}},
"y": {"field":"y","type":"quantitative","scale":{"domain":[0,1600],"nice":false},
 "axis":{"title":"intensité (UA)","values":[0,250,500,750,1000,1250,1500],"format":"d",
 "labelExpr":"datum.value % 500 == 0 ? datum.label : ''","grid":false,
 "domainColor":"black","domainWidth":2,"tickColor":"black","tickWidth":1.5,"tickSize":7,
 "labelFont":"Liberation Sans","labelFontSize":21,"labelColor":"black","labelPadding":0,
 "titleFont":"Liberation Sans","titleFontSize":38,"titleFontWeight":"normal","titleColor":"black",
 "titleAngle":270,"titleX":-102,"titleY":314,"titleBaseline":"middle","titleAlign":"center"}}
},
"layer": [
{"data":{"name":"t17"},"mark":{"type":"line","strokeWidth":1.2},"encoding":{"color":{"datum":"topaz 17","type":"nominal",
 "scale":{"domain":["topaz 07","topaz 09","topaz 10","topaz 13","topaz 16","topaz 17"],"range":["#0000ff","#00ff00","#ff0000","#ffff00","#000000","#ff8000"]},
 "legend":{"orient":"none","legendX":702,"legendY":-118,"title":["","Tiare:","Exc. 785nm"],"titleFont":"Liberation Sans","titleFontSize":34,"titleFontWeight":"normal","titleColor":"black","titleLineHeight":46,"titlePadding":10,
 "labelFont":"Liberation Sans","labelFontSize":34,"labelColor":"black","labelOffset":60,"symbolType":"M-1,0H5","symbolSize":729,"symbolStrokeWidth":1.5,"rowPadding":11,"padding":10,"strokeColor":"#444444","fillColor":"white","labelLimit":400}}}},
{"data":{"name":"t16"},"mark":{"type":"line","strokeWidth":1.2},"encoding":{"color":{"datum":"topaz 16","type":"nominal"}}},
{"data":{"name":"t13"},"mark":{"type":"line","strokeWidth":1.2},"encoding":{"color":{"datum":"topaz 13","type":"nominal"}}},
{"data":{"name":"t09"},"mark":{"type":"line","strokeWidth":1.2},"encoding":{"color":{"datum":"topaz 09","type":"nominal"}}},
{"data":{"name":"t10"},"mark":{"type":"line","strokeWidth":1.2},"encoding":{"color":{"datum":"topaz 10","type":"nominal"}}},
{"data":{"name":"t07"},"mark":{"type":"line","strokeWidth":1.2},"encoding":{"color":{"datum":"topaz 07","type":"nominal"}}},
{"data":{"name":"notes"},"mark":{"type":"text","font":"Lato","fontWeight":"bold","fontSize":20,"align":"center","baseline":"alphabetic","color":"black"},"encoding":{"text":{"field":"label"}}}
]
}
